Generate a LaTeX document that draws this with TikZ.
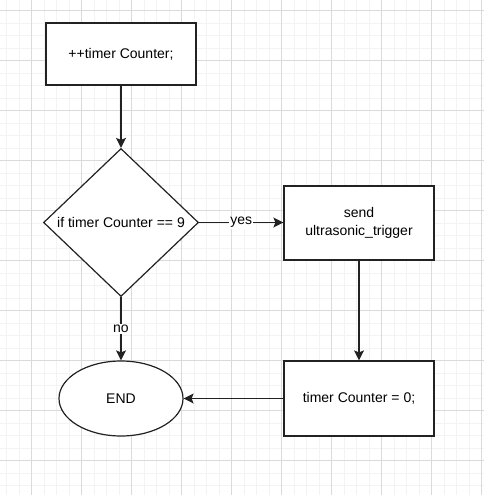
\documentclass[tikz,border=0pt]{standalone}
\usepackage{fontspec}
\setmainfont{Liberation Sans}
\usetikzlibrary{shapes.geometric,arrows.meta}
\definecolor{gridmajor}{HTML}{DADADA}
\definecolor{gridminor}{HTML}{F3F3F3}
\definecolor{linecol}{HTML}{222222}
\begin{document}
\begin{tikzpicture}[x=1pt,y=-1pt,
  gminor/.style={draw=gridminor,line width=0.9pt},
  gmajor/.style={draw=gridmajor,line width=0.9pt},
  base/.style={draw=linecol,line width=1.2pt,fill=white,inner sep=0pt,font=\fontsize{14}{18}\selectfont,align=center},
  procbox/.style={base,rectangle,minimum width=150pt},
  decbox/.style={base,diamond,minimum width=155pt,minimum height=148pt},
  endbox/.style={base,ellipse,minimum width=124pt,minimum height=75pt},
  conn/.style={draw=linecol,line width=1.2pt,-{Stealth[length=10pt,width=10pt,inset=2pt]}},
  lbl/.style={fill=white,inner sep=1pt,font=\fontsize{14}{16}\selectfont}]
\useasboundingbox (0,0) rectangle (484,495);
\fill[white] (0,0) rectangle (484,495);
% grid
\foreach \i in {0,...,38} {
  \draw[gminor] ({6.7+12.5*\i},0) -- ({6.7+12.5*\i},495);
}
\foreach \i in {0,...,39} {
  \draw[gminor] (0,{-1.8+12.5*\i}) -- (484,{-1.8+12.5*\i});
}
\foreach \i in {0,...,9} {
  \draw[gmajor] ({31.7+50*\i},0) -- ({31.7+50*\i},495);
  \draw[gmajor] (0,{10.7+50*\i}) -- (484,{10.7+50*\i});
}
% nodes
\node[procbox,minimum height=62pt] (inc) at (121,54) {++timer Counter;};
\node[decbox] (dec) at (121,222.5) {if timer Counter == 9};
\node[procbox,minimum height=74pt] (send) at (359,223) {send\\ultrasonic\_trigger};
\node[procbox,minimum height=75pt] (reset) at (359,398.5) {timer Counter = 0;};
\node[endbox] (end) at (121,398.5) {END};
% connectors
\draw[conn] (inc.south) -- (dec.north);
\draw[conn] (dec.east) -- node[lbl] {yes} (dec.east -| send.west);
\draw[conn] (dec.south) -- node[lbl] {no} (end.north);
\draw[conn] (send.south) -- (reset.north);
\draw[conn] (reset.west) -- (end.east);
\end{tikzpicture}
\end{document}
